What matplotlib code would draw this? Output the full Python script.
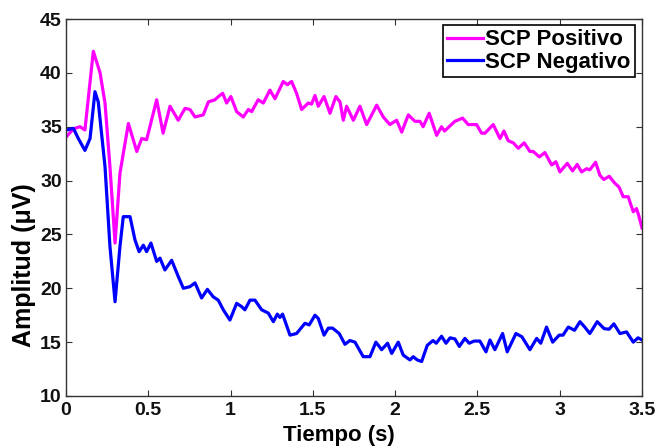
import matplotlib
matplotlib.use("Agg")
import matplotlib.pyplot as plt
import numpy as np

# Time (s) and amplitude (uV)
t_pos = [0.004, 0.045, 0.085, 0.115, 0.166, 0.207, 0.237, 0.267, 0.298, 0.328, 0.379, 0.43, 0.46, 0.49,
         0.551, 0.59, 0.632, 0.682, 0.723, 0.753, 0.784, 0.834, 0.865, 0.905, 0.926, 0.952, 0.976,
         1.002, 1.037, 1.077, 1.108, 1.128, 1.168, 1.199, 1.239, 1.27, 1.32, 1.345, 1.371, 1.401,
         1.432, 1.472, 1.492, 1.513, 1.533, 1.568, 1.604, 1.64, 1.665, 1.685, 1.705, 1.746, 1.786,
         1.827, 1.888, 1.928, 1.968, 2.009, 2.04, 2.08, 2.12, 2.151, 2.17, 2.207, 2.252, 2.282, 2.30,
         2.363, 2.41, 2.444, 2.495, 2.525, 2.546, 2.596, 2.637, 2.661, 2.687, 2.718, 2.748, 2.784,
         2.819, 2.839, 2.876, 2.91, 2.951, 2.977, 3.001, 3.046, 3.078, 3.106, 3.133, 3.163, 3.183,
         3.218, 3.244, 3.268, 3.301, 3.335, 3.36, 3.386, 3.416, 3.447, 3.467, 3.483, 3.5]
v_pos = [34.1, 34.8, 35.0, 34.7, 42.0, 40.0, 37.2, 31.3, 24.2, 30.7, 35.3, 32.7, 33.9, 33.8,
         37.5, 34.4, 36.9, 35.6, 36.7, 36.6, 35.9, 36.1, 37.3, 37.5, 37.8, 38.1, 37.2,
         37.8, 36.4, 35.9, 36.6, 36.4, 37.5, 37.2, 38.4, 37.6, 39.2, 38.9, 39.2, 38.1,
         36.6, 37.2, 37.1, 37.9, 36.9, 37.8, 36.25, 37.8, 37.3, 35.6, 36.9, 35.6, 36.9,
         35.2, 37.0, 35.9, 35.2, 35.6, 34.5, 36.1, 35.5, 35.5, 35.0, 36.25, 34.2, 35.0, 34.6,
         35.5, 35.8, 35.2, 35.2, 34.4, 34.4, 35.2, 33.9, 34.6, 33.7, 33.5, 33.0, 33.5,
         32.7, 32.7, 32.2, 32.6, 31.45, 31.75, 30.8, 31.6, 30.9, 31.5, 30.8, 31.1, 31.0,
         31.7, 30.5, 30.1, 30.4, 29.75, 29.4, 28.5, 28.5, 27.1, 27.4, 26.6, 25.6]

t_neg = [0.004, 0.045, 0.075, 0.115, 0.146, 0.176, 0.196, 0.237, 0.267, 0.298, 0.328, 0.348, 0.389,
         0.419, 0.444, 0.47, 0.49, 0.516, 0.551, 0.571, 0.601, 0.642, 0.682, 0.713, 0.753, 0.784,
         0.824, 0.859, 0.895, 0.925, 0.956, 0.996, 1.037, 1.067, 1.087, 1.118, 1.148, 1.189, 1.229,
         1.26, 1.284, 1.30, 1.316, 1.361, 1.401, 1.452, 1.478, 1.513, 1.533, 1.568, 1.594, 1.62,
         1.66, 1.695, 1.725, 1.756, 1.806, 1.847, 1.883, 1.918, 1.954, 1.979, 2.019, 2.049, 2.09,
         2.11, 2.134, 2.161, 2.195, 2.23, 2.25, 2.282, 2.309, 2.334, 2.363, 2.39, 2.424, 2.45, 2.48,
         2.515, 2.552, 2.576, 2.606, 2.653, 2.681, 2.734, 2.77, 2.819, 2.86, 2.885, 2.92, 2.957,
         2.997, 3.02, 3.052, 3.09, 3.123, 3.152, 3.183, 3.228, 3.27, 3.30, 3.329, 3.366, 3.406,
         3.447, 3.476, 3.5]
v_neg = [34.7, 34.85, 33.9, 32.8, 33.9, 38.25, 37.3, 31.3, 23.9, 18.75, 23.9, 26.65, 26.65,
         24.5, 23.4, 24.0, 23.4, 24.2, 22.5, 22.8, 21.7, 22.6, 21.1, 20.0, 20.15, 20.5,
         19.1, 19.9, 19.2, 18.9, 18.0, 17.05, 18.6, 18.3, 18.0, 18.9, 18.9, 18.0, 17.7,
         16.9, 17.6, 17.3, 17.6, 15.65, 15.8, 16.75, 16.6, 17.5, 17.2, 15.65, 16.3, 16.3,
         15.8, 14.8, 15.15, 15.0, 13.65, 13.65, 15.0, 14.3, 14.9, 13.95, 15.0, 13.8, 13.35,
         13.65, 13.35, 13.2, 14.7, 15.15, 14.9, 15.55, 14.9, 15.4, 15.3, 14.6, 15.35, 14.9, 15.1,
         15.1, 14.1, 15.2, 14.3, 15.8, 14.1, 15.8, 15.5, 14.3, 15.35, 14.9, 16.4, 15.0,
         15.65, 15.65, 16.4, 16.1, 16.9, 16.4, 15.8, 16.9, 16.25, 16.2, 16.7, 15.8, 15.95,
         15.0, 15.4, 15.2]

labels = ["SCP Positivo", "SCP Negativo"]
xticks = [0, 0.5, 1, 1.5, 2, 2.5, 3, 3.5]
xticklabels = ["0", "0.5", "1", "1.5", "2", "2.5", "3", "3.5"]
yticks = [10, 15, 20, 25, 30, 35, 40, 45]

plt.rcParams['font.family'] = ['Liberation Sans', 'DejaVu Sans']
plt.rcParams['font.weight'] = 'bold'

fig = plt.figure(figsize=(6.59, 4.46), dpi=100)
ax = fig.add_axes([66/659, 50/446, 576/659, 377/446])

ax.plot(t_pos, v_pos, color='#ff00ff', lw=2.3, label=labels[0], solid_joinstyle='round')
ax.plot(t_neg, v_neg, color='#0000ff', lw=2.3, label=labels[1], solid_joinstyle='round')

ax.set_xlim(0, 3.5)
ax.set_ylim(10, 45)
ax.set_xticks(xticks)
ax.set_xticklabels(xticklabels)
ax.set_yticks(yticks)
ax.tick_params(direction='in', top=True, right=True, length=4, width=0.8,
               labelsize=14, colors='#333333', labelcolor='#111111')
ax.tick_params(axis='x', pad=4)
ax.tick_params(axis='y', pad=3)
for lab in ax.get_xticklabels() + ax.get_yticklabels():
    lab.set_fontweight('bold')
for s in ax.spines.values():
    s.set_color('#333333')
    s.set_linewidth(1.0)

fig.text(339/659, 1 - 436/446, "Tiempo (s)", fontsize=16, fontweight='bold',
         ha='center', va='center')
fig.text(24/659, 1 - 265/446, "Amplitud (μV)", fontsize=18, fontweight='bold',
         ha='center', va='center', rotation=90)

leg = ax.legend(loc='upper right', bbox_to_anchor=(0.988, 0.984), fontsize=16,
                frameon=True, fancybox=False, edgecolor='black', framealpha=1,
                handlelength=1.6, handletextpad=0.1, borderpad=0.2, labelspacing=0.05,
                borderaxespad=0)
leg.get_frame().set_linewidth(1.2)
for txt in leg.get_texts():
    txt.set_fontweight('bold')

fig.savefig("out.png", dpi=100)
